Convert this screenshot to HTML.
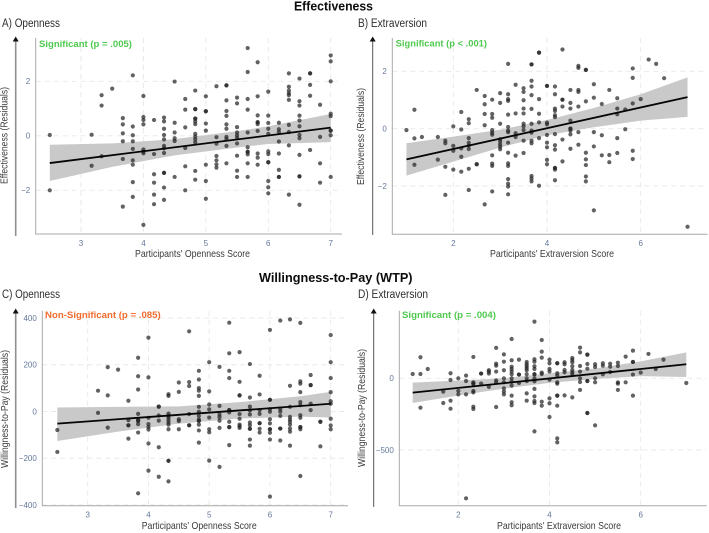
<!DOCTYPE html>
<html lang="en">
<head>
<meta charset="utf-8">
<title>Effectiveness and Willingness-to-Pay by personality score</title>
<style>
  html, body { margin: 0; padding: 0; background: #fff; }
  svg { display: block; font-family: "Liberation Sans", sans-serif; filter: blur(0.35px); }
  .section { font-size: 13px; font-weight: 700; fill: #0c0c0c; }
  .panel-title { font-size: 11.5px; fill: #2e2e2e; }
  .axis-title { font-size: 10.5px; fill: #3a3a3a; }
  .sig { font-size: 9px; font-weight: 700; }
  .tick { font-size: 8px; fill: #64789a; }
</style>
</head>
<body>
<svg id="chart" width="709" height="533" viewBox="0 0 709 533" xmlns="http://www.w3.org/2000/svg">
  <rect width="709" height="533" fill="#fff"/>

  <text class="section" x="294" y="10.5" textLength="79" lengthAdjust="spacingAndGlyphs">Effectiveness</text>
  <text class="section" x="259" y="282" textLength="153.5" lengthAdjust="spacingAndGlyphs">Willingness-to-Pay (WTP)</text>

  <text class="panel-title" x="2" y="27" textLength="58" lengthAdjust="spacingAndGlyphs">A) Openness</text>
  <text class="panel-title" x="358" y="27" textLength="69" lengthAdjust="spacingAndGlyphs">B) Extraversion</text>
  <text class="panel-title" x="2" y="298" textLength="58" lengthAdjust="spacingAndGlyphs">C) Openness</text>
  <text class="panel-title" x="358" y="298" textLength="70" lengthAdjust="spacingAndGlyphs">D) Extraversion</text>

  <g id="panel-a"></g>
  <g id="panel-b"></g>
  <g id="panel-c"></g>
  <g id="panel-d"></g>

  <g>
    <line x1="15.7" y1="39" x2="15.7" y2="236" stroke="#8f8f8f" stroke-width="1.6"/>
    <polygon points="15.7,36.5 12.7,41.5 18.7,41.5" fill="#111"/>
  </g>
  <g>
    <line x1="372.7" y1="39" x2="372.7" y2="235" stroke="#555" stroke-width="1"/>
    <polygon points="372.7,36.5 369.7,41.5 375.7,41.5" fill="#111"/>
  </g>
  <g>
    <line x1="15.7" y1="311" x2="15.7" y2="508" stroke="#8f8f8f" stroke-width="1.6"/>
    <polygon points="15.7,308.5 12.7,313.5 18.7,313.5" fill="#111"/>
  </g>
  <g>
    <line x1="373.7" y1="311" x2="373.7" y2="507" stroke="#555" stroke-width="1"/>
    <polygon points="373.7,308.5 370.7,313.5 376.7,313.5" fill="#111"/>
  </g>

  <text class="axis-title" x="135" y="257" textLength="115" lengthAdjust="spacingAndGlyphs">Participants' Openness Score</text>
  <text class="axis-title" x="490" y="257" textLength="124" lengthAdjust="spacingAndGlyphs">Participants' Extraversion Score</text>
  <text class="axis-title" x="141.7" y="529" textLength="115" lengthAdjust="spacingAndGlyphs">Participants' Openness Score</text>
  <text class="axis-title" x="497" y="529" textLength="124" lengthAdjust="spacingAndGlyphs">Participants' Extraversion Score</text>

  <text class="axis-title" transform="translate(7.5,184) rotate(-90)" textLength="97" lengthAdjust="spacingAndGlyphs">Effectiveness (Residuals)</text>
  <text class="axis-title" transform="translate(364,185) rotate(-90)" textLength="97" lengthAdjust="spacingAndGlyphs">Effectiveness (Residuals)</text>
  <text class="axis-title" transform="translate(8,468) rotate(-90)" textLength="118" lengthAdjust="spacingAndGlyphs">Willingness-to-Pay (Residuals)</text>
  <text class="axis-title" transform="translate(365,467) rotate(-90)" textLength="118" lengthAdjust="spacingAndGlyphs">Willingness-to-Pay (Residuals)</text>
</svg>

<script>
// ---------- Tick labels ----------
const opennessTicks = [3, 4, 5, 6, 7];
const extraversionTicks = [2, 4, 6];
const effectivenessTicksA = [-2, 0, 2];
const effectivenessTicksB = [-2, 0, 2];
const wtpTicksC = [-400, -200, 0, 200, 400];
const wtpTicksD = [-500, 0];

// ---------- Score levels (x categories) ----------
const opennessLevelsA = [2.5,3.17,3.33,3.5,3.67,3.83,4,4.17,4.33,4.5,4.67,4.83,5,5.17,5.33,5.5,5.67,5.83,6,6.17,6.33,6.5,6.67,6.83,7];
const extraversionLevelsB = [1,1.17,1.33,1.67,1.83,2,2.17,2.33,2.5,2.67,2.83,3,3.17,3.33,3.5,3.67,3.83,4,4.17,4.33,4.5,4.67,4.83,5,5.17,5.33,5.5,5.67,5.83,6,6.17,6.33,6.5,7];
const opennessLevelsC = [2.5,3.17,3.33,3.5,3.67,3.83,4,4.17,4.33,4.5,4.67,4.83,5,5.17,5.33,5.5,5.67,5.83,6,6.17,6.33,6.5,6.67,6.83,7];
const extraversionLevelsD = [1,1.17,1.33,1.67,1.83,2,2.17,2.33,2.5,2.67,2.83,3,3.17,3.33,3.5,3.67,3.83,4,4.17,4.33,4.5,4.67,4.83,5,5.17,5.33,5.5,5.67,5.83,6,6.17,6.33,6.5,7];

// ---------- Residuals at each score level ----------
const residualsA = [
  [0.03,-2],[0.04,-1.1],[1.49,1.11,-0.75],[1.73],
  [0.65,0.42,0.09,-0.2,-0.85,-2.6],
  [2.22,0.34,0.02,-0.2,-0.48,-0.9,-1.06,-1.7,-2.24],
  [1.46,0.69,0.58,0.42,-0.5,-0.58,-0.64,-3.27],
  [0.58,-0.67,-1.41,-1.72,-2.16,-2.51],
  [0.67,0.53,0.26,0.03,-0.13,-0.37,-0.46,-0.63,-1.36,-1.36,-1.9,-2.35],
  [1.99,0.48,0.12,-0.09,-0.19,-1.51],
  [1.35,0.96,0.31,-0.45,-1.12,-2],
  [1.66,0.98,0.98,0.63,0.63,0.53,0.43,0.07,-0.03,-0.13,-0.24,-1.29,-1.61],
  [1.45,0.9,0.9,0.45,0.19,-1.06,-1.66,-2.31],
  [1.82,-0.05,-0.29,-0.74,-0.9,-1.05,-1.17],
  [1.85,1.85,1.3,0.91,0.73,0.42,0.26,-0.04,-0.12,-0.37,-1.01],
  [1.4,1.19,0.32,0.12,0.02,-0.07,-0.28,-0.73,-1.28,-1.51],
  [3.22,2.34,1.35,0.96,0.12,-0.42,-0.59,-0.59,-0.68,-1.01,-1.51],
  [2.7,1.45,0.75,0.5,0.5,0.43,0.18,-0.65,-0.8,-1.06],
  [1.62,0.74,0.47,0.26,0.07,-0.57,-0.67,-0.97,-0.97,-1.66,-1.89,-2.11],
  [0.48,0.24,0.14,-0.21,-0.65,-1.25,-1.51,-1.51],
  [2.29,1.8,1.66,1.56,1.49,1.32,0.4,0.14,-0.35,-2.16],
  [2.1,1.27,1.11,0.74,0.56,0.35,0.03,-0.09,-0.7,-1.49,-1.49,-2.53],
  [2.29,2.29,1.87,1.47,-0.52],
  [1.14,-0.04,-1.01,-1.72],
  [2.95,2.73,2,0.81,0.72,0.19,0.19,0.02,-1.51]
];
const residualsB = [
  [-0.05],[0.66,-0.34,-1.26],[-0.29],[-0.29,-1.08],[-0.42,-0.51,-1.33,-2.31],
  [0.08,-0.6,-0.77,-1.43],[0.58,-0.03,-0.69,-0.98,-1.5],
  [0.33,0.19,-0.33,-0.49,-0.59,-0.71,-1.4,-2.14],[1.35,-1.24,-1.24],
  [1.14,0.85,0.51,0.12,-2.64],
  [1.01,0.51,0.38,-0.05,-0.14,-0.21,-0.93,-1.22,-1.3,-2.19],
  [1.24,0.9,0.17,-0.37,-0.45,-0.55,-0.63,-0.72],
  [2.26,1.2,1.03,0.97,0.49,0.06,-0.07,-0.12,-0.49,-0.84,-1.21,-1.3,-1.76,-1.92,-2.02,-2.29],
  [1.53,0.53,-0.16,-0.29,-0.94],
  [1.41,1.28,0.99,0.7,0.53,0.17,0.08,-0.05,-0.42,-0.85],
  [2.24,2.24,1.67,1.47,1.17,0.69,0.17,-0.07,-0.14,-0.42,-0.51,-1.65,-1.74,-1.84],
  [2.65,2.65,1.03,0.52,0.22,-0.33,-1.99],
  [1.49,1.49,0.21,0.15,-0.22,-0.49,-0.65,-1.09,-1.24],
  [1.47,1.2,0.7,0.62,0.47,0.4,-0.19,-0.58,-0.73,-1.37,-1.37,-1.43,-1.8],
  [2.76,1.01,1.01,0.77,-0.38,-1.14],
  [1.35,0.9,0.7,0.28,0,0,-0.07,-0.2,-0.7],
  [2.19,2.12,1.35,1.28,0.77,-0.12,-0.56],
  [2.05,2.05,0.95,-0.84,-1.07,-1.27,-1.67,-1.84],
  [1.55,1.08,-0.12,-0.62,-2.85],
  [0.86,-0.23,-0.93],[1.35,-0.92,-1.17],[1.06,0.7,0.5,-0.33,-0.85],[0.67,-0.02],
  [2.1,1.77,0.88,-0.77,-1.06],[1.03],[2.41],[2.26],[1.76],[-3.42]
];
const residualsC = [
  [-79,-173],[89,-6],[190,69,-69],[179],[46,-37,-59,-59,-116],
  [230,151,94,-10,-34,-40,-40,-54,-90,-350],
  [316,146,-27,-54,-66,-77,-137,-253],
  [21,21,-17,-39,-153,-279],
  [74,67,-9,-19,-27,-37,-47,-56,-76,-211,-211,-299],
  [124,84,-33,-41,-76],[343,126,109,-11,-59,-59],
  [174,137,100,89,67,20,-1,-19,-34,-40,-40,-56,-81,-133],
  [211,86,30,9,-26,-76,-89,-210],
  [191,24,-13,-24,-39,-70,-237],
  [380,249,174,143,6,6,-4,-44,-67,-67,-144],
  [254,127,69,69,-11,-31,-56,-63,-70],
  [203,60,21,4,-13,-47,-59,-74,-74,-120,-146],
  [153,73,6,-10,-50,-50,-74,-90],
  [349,50,50,10,-1,-33,-51,-76,-76,-91,-120,-364],
  [389,10,-1,-19,-73,-73,-124],
  [394,110,20,-23,-34,-44,-56,-73,-86,-146],
  [379,129,119,83,40,27,-16,-27,-67,-67,-76,-276],
  [156,113,113,33,6],[-44,-44,-149],
  [327,211,143,83,44,33,-31,-60,-76]
];
const residualsD = [
  [30],[147,30,-205],[65],[-93,-172],[35,-12,-156,-212],[0,-88,-112],
  [19,-19,-112,-837],[149,-28,-37,-37,-88,-98,-198,-214],[33,33,-37],
  [56,47,33,-60],[212,102,88,47,-14,-28,-200],
  [167,116,56,0,-28,-70,-93,-112],
  [274,126,81,65,47,28,0,-23,-51,-121,-167,-188],
  [130,26,26,-33],
  [114,98,84,70,56,28,0,-19,-105,-156],
  [395,133,116,84,65,28,28,0,-21,-74,-126,-158,-172,-370],
  [267,186,144,40,30,-163,-191],
  [130,105,65,47,-9,-140,-174,-270],
  [105,105,35,19,-28,-37,-121,-121,-191,-419,-447],
  [112,98,58,42,-119],
  [142,128,112,84,58,42,28,-133],
  [214,181,86,47,0,-26,-81],
  [165,165,100,67,-19,-19,-242,-242],
  [98,79,0,-28,-328],
  [105,88,28],[102,81,44],[109,86,-28,-37,-81],[151,-28],
  [193,114,114,26,-121],[40],[170],[65],[130],[-33]
];

// ---------- Regression fits ----------
const fitXA = [2.5, 7];
const fitYA = [-1, 0.3];
const fitXB = [1, 7];
const fitYB = [-1.07, 1.1];
const fitXC = [2.5, 7];
const fitYC = [-52, 33];
const fitXD = [1, 7];
const fitYD = [-100, 98];

// ---------- Confidence bands ----------
const bandXA = [2.5, 3.5, 4.5, 5.5, 6, 7];
const bandUpperA = [-0.33, -0.28, -0.12, 0.17, 0.35, 0.8];
const bandLowerA = [-1.66, -1.14, -0.72, -0.43, -0.3, -0.23];
const bandXB = [1, 2, 3, 4, 5, 6, 7];
const bandUpperB = [-0.51, -0.28, -0.04, 0.3, 0.72, 1.2, 1.79];
const bandLowerB = [-1.64, -1.15, -0.66, -0.23, 0.05, 0.28, 0.41];
const bandXC = [2.5, 3.5, 4.5, 5.5, 6.5, 7];
const bandUpperC = [17, 20, 22, 40, 65, 84];
const bandLowerC = [-126, -86, -52, -30, -22, -26];
const bandXD = [1, 2, 3, 4, 5, 6, 7];
const bandUpperD = [-30, -15, 0, 35, 68, 118, 181];
const bandLowerD = [-172, -120, -72, -32, -5, 15, 9];

// ---------- Significance annotations ----------
const sigLabels = ['Significant (p = .005)', 'Significant (p < .001)', 'Non-Significant (p = .085)', 'Significant (p = .004)'];

const SVGNS = 'http://www.w3.org/2000/svg';

function mk(parent, tag, attrs) {
  const el = document.createElementNS(SVGNS, tag);
  for (const k in attrs) el.setAttribute(k, attrs[k]);
  parent.appendChild(el);
  return el;
}

// Linear axis function calibrated by two reference values and their pixels
function linearScale(v0, v1, p0, p1) {
  return v => p0 + (v - v0) * (p1 - p0) / (v1 - v0);
}

function fmtTick(t) {
  return t < 0 ? '\u2212' + Math.abs(t) : String(t);
}

function drawPanel(cfg) {
  const g = document.getElementById(cfg.id);
  const sx = linearScale(cfg.xCal[0], cfg.xCal[1], cfg.xCal[2], cfg.xCal[3]);
  const sy = linearScale(cfg.yCal[0], cfg.yCal[1], cfg.yCal[2], cfg.yCal[3]);
  const b = cfg.box;

  // Gridlines and x tick labels
  cfg.xTicks.forEach(t => {
    const grid = mk(g, 'line', { x1: sx(t), x2: sx(t), y1: b.top, y2: b.bottom, stroke: '#e8e8e8', 'stroke-width': 0.9, 'stroke-dasharray': '5 4' });
    
    
    const label = mk(g, 'text', { class: 'tick', x: sx(t), y: b.bottom + 11.8, 'text-anchor': 'middle' });
    label.textContent = fmtTick(t);
    
    
  });

  // Gridlines and y tick labels
  cfg.yTicks.forEach(t => {
    const grid = mk(g, 'line', { x1: b.left, x2: b.right, y1: sy(t), y2: sy(t), stroke: '#e8e8e8', 'stroke-width': 0.9, 'stroke-dasharray': '5 4' });
    
    
    const label = mk(g, 'text', { class: 'tick', x: b.left - 5.5, y: sy(t) + 2.8, 'text-anchor': 'end' });
    label.textContent = fmtTick(t);
    
    
  });

  // Confidence band
  const upper = cfg.bandX.map((x, i) => sx(x) + ',' + sy(cfg.bandUpper[i]));
  const lower = cfg.bandX.map((x, i) => sx(x) + ',' + sy(cfg.bandLower[i])).reverse();
  const band = mk(g, 'polygon', { points: upper.concat(lower).join(' '), fill: '#c9c9c9' });
  
  

  // Points
  cfg.levels.forEach((x, i) => {
    cfg.values[i].forEach(y => {
      const dot = mk(g, 'circle', { cx: sx(x), cy: sy(y), r: 2.1, fill: '#262626', 'fill-opacity': 0.72 });
      
      
    });
  });

  // Fit line
  const fit = mk(g, 'line', { x1: sx(cfg.fitX[0]), y1: sy(cfg.fitY[0]), x2: sx(cfg.fitX[1]), y2: sy(cfg.fitY[1]), stroke: '#050505', 'stroke-width': 1.8 });
  
  

  // Plot axes
  const axis = mk(g, 'polyline', { points: b.left + ',' + b.top + ' ' + b.left + ',' + b.bottom + ' ' + b.right + ',' + b.bottom, fill: 'none', stroke: '#a9a9a9', 'stroke-width': 1 });
  
  

  // Significance label
  const sig = mk(g, 'text', { class: 'sig', x: cfg.sig.x, y: cfg.sig.y, fill: cfg.sig.color, textLength: cfg.sig.w, lengthAdjust: 'spacingAndGlyphs' });
  sig.textContent = cfg.sig.text;
  
  
}

drawPanel({
  id: 'panel-a', levels: opennessLevelsA, values: residualsA,
  xTicks: opennessTicks, yTicks: effectivenessTicksA,
  fitX: fitXA, fitY: fitYA, bandX: bandXA, bandUpper: bandUpperA, bandLower: bandLowerA,
  xCal: [3, 7, 81, 330.7], yCal: [2, -2, 81.3, 190.3],
  box: { left: 35.7, right: 342, top: 38, bottom: 234 },
  sig: { text: sigLabels[0], x: 39, y: 46.8, w: 93, color: '#4fc94f' }
});
drawPanel({
  id: 'panel-b', levels: extraversionLevelsB, values: residualsB,
  xTicks: extraversionTicks, yTicks: effectivenessTicksB,
  fitX: fitXB, fitY: fitYB, bandX: bandXB, bandUpper: bandUpperB, bandLower: bandLowerB,
  xCal: [2, 6, 453.3, 640.7], yCal: [2, -2, 71.3, 186],
  box: { left: 392.3, right: 707.7, top: 38, bottom: 234.3 },
  sig: { text: sigLabels[1], x: 395.7, y: 46.3, w: 91.3, color: '#4fc94f' }
});
drawPanel({
  id: 'panel-c', levels: opennessLevelsC, values: residualsC,
  xTicks: opennessTicks, yTicks: wtpTicksC,
  fitX: fitXC, fitY: fitYC, bandX: bandXC, bandUpper: bandUpperC, bandLower: bandLowerC,
  xCal: [3, 7, 87.7, 330.7], yCal: [400, -400, 318, 505],
  box: { left: 42.3, right: 348, top: 310.7, bottom: 505.7 },
  sig: { text: sigLabels[2], x: 45, y: 318.2, w: 115.7, color: '#f26c2e' }
});
drawPanel({
  id: 'panel-d', levels: extraversionLevelsD, values: residualsD,
  xTicks: extraversionTicks, yTicks: wtpTicksD,
  fitX: fitXD, fitY: fitYD, bandX: bandXD, bandUpper: bandUpperD, bandLower: bandLowerD,
  xCal: [2, 6, 458.3, 640.7], yCal: [0, -500, 378.3, 450],
  box: { left: 399.3, right: 706.7, top: 310.7, bottom: 505.7 },
  sig: { text: sigLabels[3], x: 402, y: 318.2, w: 94, color: '#4fc94f' }
});
</script>
</body>
</html>
